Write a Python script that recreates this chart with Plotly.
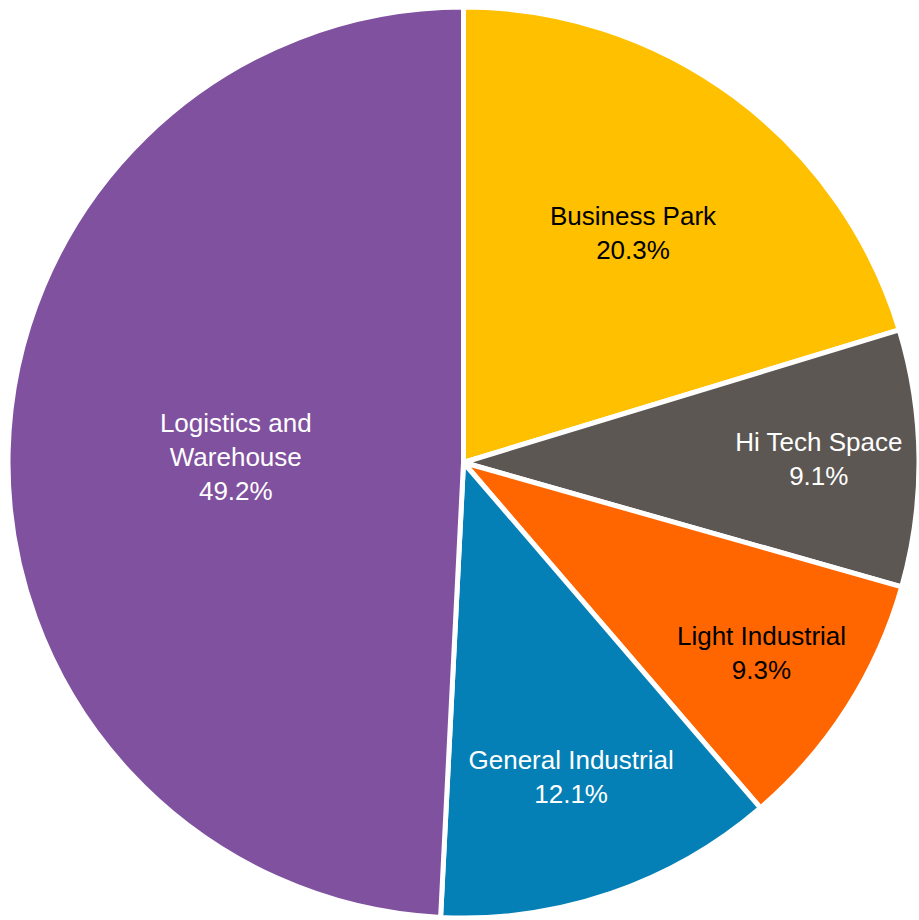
import plotly.graph_objects as go

# Share of floor space by property type
categories = ["Business Park", "Hi Tech Space", "Light Industrial",
              "General Industrial", "Logistics and<br>Warehouse"]
shares = [20.3, 9.1, 9.3, 12.1, 49.2]
slice_colors = ["#FFC000", "#5C5752", "#FF6600", "#0580B6", "#7F519E"]
label_colors = ["#000000", "#FFFFFF", "#000000", "#FFFFFF", "#FFFFFF"]

W, H = 919, 920

fig = go.Figure(
    go.Pie(
        labels=categories,
        values=shares,
        sort=False,
        direction="clockwise",
        rotation=0,
        marker=dict(colors=slice_colors, line=dict(color="#FFFFFF", width=5)),
        texttemplate="%{label}<br>%{value:.1f}%",
        textposition="inside",
        insidetextorientation="horizontal",
        textfont=dict(family="Liberation Sans, Arial, sans-serif", size=26,
                      color=label_colors),
        hoverinfo="label+percent",
        showlegend=False,
        domain=dict(x=[8 / W, 1.0], y=[2 / H, 913 / H]),
    )
)

fig.update_layout(
    width=W,
    height=H,
    margin=dict(l=0, r=0, t=0, b=0),
    paper_bgcolor="#FFFFFF",
    plot_bgcolor="#FFFFFF",
)

fig.write_html("out.html")
